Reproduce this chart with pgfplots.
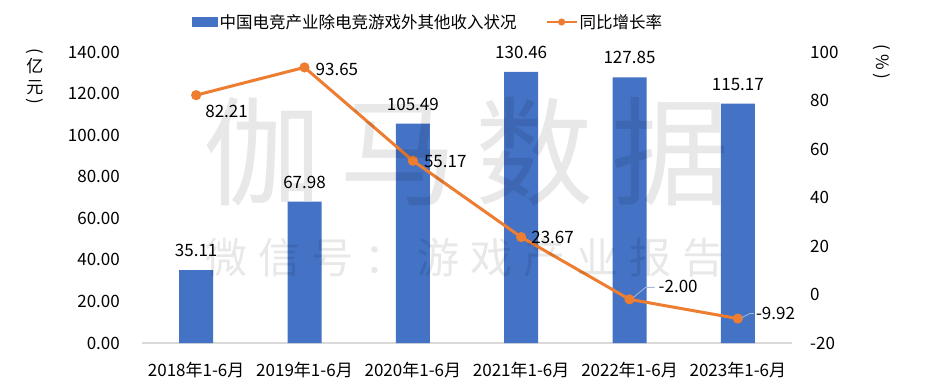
\documentclass[border=0pt]{standalone}
\usepackage{fontspec}
\setmainfont{Noto Sans CJK SC}
\usepackage{pgfplots}
\pgfplotsset{compat=1.18}
\definecolor{barblue}{HTML}{4472C4}
\definecolor{lineorange}{HTML}{ED7D31}
\definecolor{axgray}{HTML}{D9D9D9}
\definecolor{leadc}{HTML}{A6B8D9}
\newcommand\fs[1]{\fontsize{#1bp}{#1bp}\selectfont}

\begin{document}
\begin{tikzpicture}[x=1bp,y=1bp]
\useasboundingbox (-142,-39) rectangle (785,343);
\begin{axis}[
  at={(0,0)}, anchor=south west,
  scale only axis, width=650bp, height=291bp,
  xmin=-0.5, xmax=5.5, ymin=0, ymax=140,
  axis x line*=bottom, axis y line*=left,
  x axis line style={draw=axgray, line width=1.5bp, -},
  y axis line style={draw=none},
  major tick length=0,
  xtick={0,...,5},
  xticklabels={2018年1-6月,2019年1-6月,2020年1-6月,2021年1-6月,2022年1-6月,2023年1-6月},
  xticklabel style={font=\fs{17}, anchor=center, inner sep=0, yshift=-27bp},
  ytick={0,20,...,140},
  yticklabel style={font=\fs{17}, anchor=east, inner sep=0, xshift=-22bp, /pgf/number format/.cd, fixed, fixed zerofill, precision=2, assume math mode=true},
  ybar, bar width=34bp,
  nodes near coords,
  nodes near coords style={font=\fs{17}, anchor=south, inner sep=0, yshift=13bp, /pgf/number format/.cd, fixed, fixed zerofill, precision=2, assume math mode=true},
  clip=false,
]
\addplot[fill=barblue, draw=none] coordinates {(0,35.11)(1,67.98)(2,105.49)(3,130.46)(4,127.85)(5,115.17)};
\end{axis}
\pgfplotsset{orangelegend/.style={legend image code/.code={\draw[mark repeat=2,mark phase=2,##1, line width=2bp, mark size=2.5bp] plot coordinates {(0bp,0bp)(15bp,0bp)(30bp,0bp)};}}}
\begin{axis}[
  at={(0,0)}, anchor=south west,
  scale only axis, width=650bp, height=291bp,
  xmin=-0.5, xmax=5.5, ymin=-20, ymax=100,
  axis y line*=right, hide x axis,
  y axis line style={draw=none},
  major tick length=0,
  ytick={-20,0,...,100},
  yticklabel style={font=\fs{17}, anchor=west, inner sep=0, xshift=18bp, /pgf/number format/assume math mode=true},
  clip=false,
  legend columns=2,
  legend style={at={(axis description cs:0.077,1.103)}, anchor=west, draw=none, fill=none, font=\fs{16.5}, inner sep=0,
    /tikz/every even column/.append style={column sep=27bp}},
]
\addlegendimage{legend image code/.code={\fill[barblue] (0bp,-4.5bp) rectangle (25bp,4.5bp);}}
\addlegendentry{中国电竞产业除电竞游戏外其他收入状况}
\addplot[lineorange, line width=3bp, mark=*, mark size=3.5bp, mark options={fill=lineorange}, orangelegend]
  coordinates {(0,82.21)(1,93.65)(2,55.17)(3,23.67)(4,-2.00)(5,-9.92)};
\addlegendentry{同比增长率}
\node[anchor=west, inner sep=0, font=\fs{17}, xshift=9bp, yshift=-16bp] at (axis cs:0,82.21) {82.21};
\node[anchor=west, inner sep=0, font=\fs{17}, xshift=11bp, yshift=-2bp] at (axis cs:1,93.65) {93.65};
\node[anchor=west, inner sep=0, font=\fs{17}, xshift=11bp, yshift=-1bp] at (axis cs:2,55.17) {55.17};
\node[anchor=west, inner sep=0, font=\fs{17}, xshift=10bp, yshift=0bp] at (axis cs:3,23.67) {23.67};
\node[anchor=west, inner sep=0, font=\fs{17}, xshift=29bp, yshift=13bp] at (axis cs:4,-2) {-2.00};
\node[anchor=west, inner sep=0, font=\fs{17}, xshift=18bp, yshift=5bp] at (axis cs:5,-9.92) {-9.92};
\coordinate (p4) at (axis cs:4,-2);
\coordinate (p5) at (axis cs:5,-9.92);
\end{axis}
\draw[leadc, line width=0.8bp] ([xshift=4bp,yshift=2bp]p4) -- ++(12bp,10bp) -- ++(9bp,0);
\draw[leadc, line width=0.8bp] ([xshift=4bp,yshift=1bp]p5) -- ++(8bp,4bp) -- ++(4bp,0);
% axis titles
\node[font=\fs{17}, inner sep=0] at (-107,292) {\rotatebox{-90}{(}};
\node[font=\fs{17}, inner sep=0] at (-107,277) {亿};
\node[font=\fs{17}, inner sep=0] at (-107,255) {元};
\node[font=\fs{17}, inner sep=0] at (-107,242) {\rotatebox{-90}{)}};
\node[font=\fs{17}, rotate=-90, inner sep=0] at (740,281) {(\hspace{4bp}\%\hspace{4bp})};
% watermark
\node[text=black, text opacity=0.09, font=\fs{118}, inner sep=0] at (325,191) {伽\hspace{18bp}马\hspace{18bp}数\hspace{18bp}据};
\node[text=black, text opacity=0.09, font=\fs{42}, inner sep=0] at (323,85) {微\hspace{11bp}信\hspace{11bp}号\hspace{11bp}：\hspace{11bp}游\hspace{11bp}戏\hspace{11bp}产\hspace{11bp}业\hspace{11bp}报\hspace{11bp}告};
\end{tikzpicture}
\end{document}
